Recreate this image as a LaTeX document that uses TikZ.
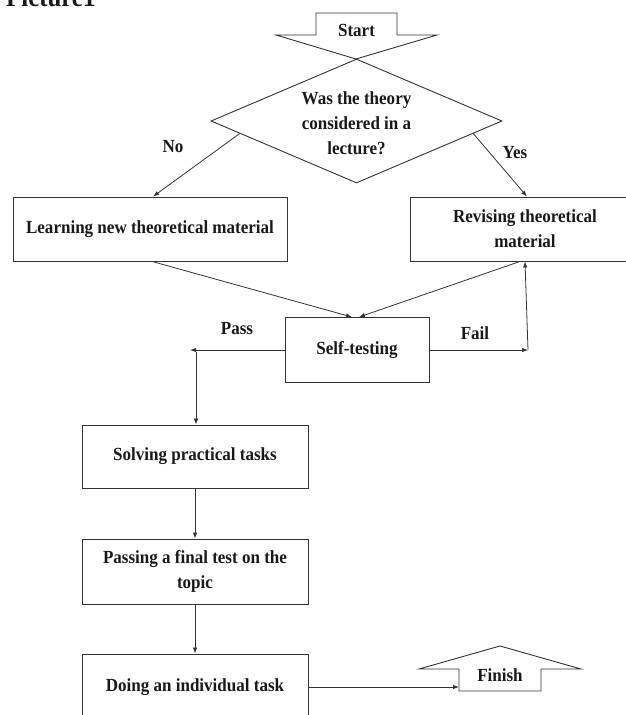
\documentclass[tikz,border=0pt]{standalone}
\usepackage{fontspec}
\setmainfont{Liberation Serif}[FakeStretch=0.92]
\usetikzlibrary{shapes.geometric,arrows.meta,calc}
\begin{document}
\begin{tikzpicture}[x=1pt,y=-1pt,
  txt/.style={font=\bfseries\fontsize{18.5}{25}\selectfont, text=black!90},
  box/.style={txt, draw=black!80, line width=0.9pt, inner sep=0pt, align=center, rectangle},
  lbl/.style={txt, inner sep=0pt},
  shapeline/.style={draw=black!80, line width=0.9pt, line join=miter},
  arr/.style={draw=black!80, line width=0.8pt, -{Latex[length=6pt,width=4.5pt]}},
  ln/.style={draw=black!80, line width=0.8pt}]
\useasboundingbox (0,0) rectangle (626,715);
\clip (0,0) rectangle (626,715);
% title (cut off at the top)
\node[lbl, anchor=base west, font=\bfseries\fontsize{27}{30}\selectfont] (title) at (6,6) {Picture1};
% start arrow
\draw[shapeline] (316,13) -- (397,13) -- (397,35) -- (437,35) -- (356,59) -- (276,35) -- (316,35) -- cycle;
\node[lbl] (start) at (356.5,30) {Start};
% decision
\node[shapeline, diamond, minimum width=291pt, minimum height=124pt, inner sep=0pt] (q) at (356.5,121) {};
\node[lbl, align=center] (qt) at (356.5,123.5) {Was the theory\\considered in a\\lecture?};
% boxes
\node[box, minimum width=274pt, minimum height=64pt] (learn) at (150,229) {Learning new theoretical material};
\node[box, minimum width=230pt, minimum height=64pt] (rev) at (525,229) {Revising theoretical\\material};
\node[box, minimum width=144pt, minimum height=65pt] (st) at (357,350) {Self-testing};
\node[box, minimum width=226pt, minimum height=63pt] (solve) at (195,456.5) {Solving practical tasks};
\node[box, minimum width=226pt, minimum height=65pt] (final) at (195,571.5) {Passing a final test on the\\topic};
\node[box, minimum width=226pt, minimum height=66pt] (ind) at (195,687) {Doing an individual task};
% finish arrow
\draw[shapeline] (459,691) -- (459,669) -- (419,669) -- (500,646) -- (581,669) -- (541,669) -- (541,691) -- cycle;
\node[lbl] (finish) at (500,675) {Finish};
\coordinate (finin) at (459,687);
% labels
\node[lbl] (no) at (173,147) {No};
\node[lbl] (yes) at (515,153) {Yes};
\node[lbl] (pass) at (237,329) {Pass};
\node[lbl] (fail) at (475,333) {Fail};
% connectors
\coordinate (failpt) at (528,350);
\coordinate (passpt) at (190,350);
\coordinate (passdown) at (196,352);
\draw[arr] ($(q.west)!0.2!(q.south)$) -- ([xshift=3pt]learn.north);
\draw[arr] ($(q.east)!0.2!(q.south)$) -- ([xshift=2pt]rev.north);
\draw[arr] ([xshift=2pt]learn.south) -- ([xshift=-5pt]st.north);
\draw[arr] ([xshift=-5pt]rev.south) -- ([xshift=2pt]st.north);
\draw[arr] (st.east) -- (failpt);
\draw[arr] (failpt) -- (rev.south);
\draw[arr] (st.west) -- (passpt);
\draw[arr] (passdown) -- (passdown |- solve.north);
\draw[arr] (solve.south) -- (final.north);
\draw[arr] (final.south) -- (ind.north);
\draw[arr] (ind.east) -- (finin);
\end{tikzpicture}
\end{document}
